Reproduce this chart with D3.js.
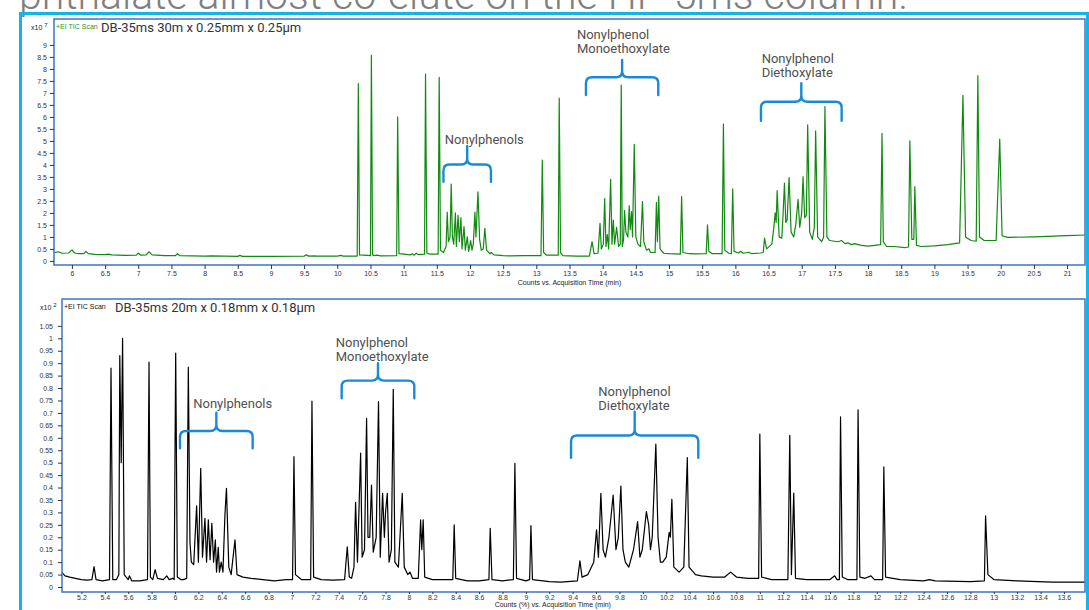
<!DOCTYPE html>
<html lang="en">
<head>
<meta charset="utf-8">
<title>DB-35ms chromatograms</title>
<script src="https://d3js.org/d3.v7.min.js"></script>
<style>
  body { margin: 0; background: #fff; }
  .tick text { font-family: "Liberation Sans", Arial, sans-serif; font-size: 7px; fill: #333; }
  .tick line { stroke: #333; }
  .domain { display: none; }
  .note { font-family: Roboto, sans-serif; font-size: 13px; fill: #505050; }
  .brace { fill: none; stroke: #1b8ad6; stroke-width: 2.4; stroke-linecap: round; stroke-linejoin: round; }
  .small { font-family: "Liberation Sans", Arial, sans-serif; font-size: 7px; }
</style>
</head>
<body>
<script>
// 30 m column run, signal in x10^7 counts
var topTime = [5.73,5.80,5.85,5.95,6.00,6.04,6.10,6.18,6.21,6.25,6.35,6.50,6.55,6.60,6.80,6.97,7.00,7.04,7.12,7.16,7.21,7.40,7.56,7.59,7.63,8.00,8.10,8.50,8.53,8.57,9.00,9.50,9.53,9.57,9.65,9.70,10.00,10.05,10.09,
  10.30,10.317,10.335,10.50,10.514,10.532,10.56,10.60,10.65,10.895,10.91,10.93,11.00,11.10,11.13,11.16,11.19,11.22,11.315,11.33,11.35,11.40,11.52,11.536,11.555,
  11.60,11.64,11.657,11.675,11.70,11.717,11.735,11.755,11.78,11.795,11.82,11.84,11.863,11.88,11.91,11.93,11.96,11.98,12.01,12.03,12.05,12.074,12.09,12.12,12.145,12.17,12.20,12.224,12.25,12.30,12.32,12.36,12.50,12.60,12.80,
  13.07,13.09,13.11,13.15,13.33,13.345,13.365,13.40,13.60,13.80,13.84,13.87,13.93,13.96,13.98,14.01,14.03,14.05,14.07,14.09,14.12,14.14,14.16,14.18,14.21,14.24,14.265,14.28,14.295,14.315,14.33,14.35,14.38,14.40,14.415,14.435,14.45,14.476,14.50,14.53,14.57,14.60,14.62,14.66,14.70,14.72,14.79,14.81,14.825,14.845,14.865,14.92,
  15.00,15.17,15.19,15.21,15.30,15.40,15.56,15.58,15.60,15.65,15.80,15.82,15.84,15.90,15.94,15.96,15.98,16.05,16.08,16.12,16.20,16.25,16.38,16.42,16.44,16.47,16.55,16.58,16.60,16.615,16.63,16.66,16.70,16.72,16.74,16.76,16.78,16.81,16.84,16.88,16.91,16.945,16.97,17.00,17.02,17.045,17.07,17.09,17.12,17.16,17.19,17.21,17.24,17.30,17.33,17.35,17.38,17.42,
  17.55,17.60,17.65,17.70,17.75,17.80,17.90,18.00,18.10,18.19,18.21,18.23,18.28,18.40,18.55,18.61,18.63,18.66,18.69,18.705,18.73,18.80,19.00,19.20,19.38,19.43,19.47,19.55,19.63,19.655,19.68,19.75,19.93,19.985,20.02,20.10,20.50,21.00,21.27];
var topSignal = [0.35,0.38,0.32,0.33,0.46,0.33,0.30,0.30,0.40,0.30,0.27,0.26,0.28,0.25,0.23,0.24,0.32,0.24,0.25,0.38,0.25,0.22,0.22,0.30,0.22,0.20,0.21,0.19,0.23,0.19,0.19,0.20,0.25,0.20,0.21,0.20,0.20,0.23,0.20,
  0.20,7.39,0.25,0.22,8.57,0.25,0.22,0.24,0.21,0.22,6.0,0.30,0.28,0.25,0.30,0.24,0.32,0.26,0.28,7.78,0.32,0.28,0.28,7.65,0.45,
  0.35,0.6,2.03,0.8,1.0,3.2,1.0,0.7,2.0,0.6,1.9,0.8,1.8,0.5,1.43,0.45,1.0,0.4,0.85,0.45,0.7,2.03,1.0,2.88,0.9,0.45,0.5,1.36,0.45,0.3,0.35,0.25,0.22,0.21,0.22,
  0.22,4.2,0.35,0.24,0.24,6.78,0.35,0.22,0.20,0.20,0.8,0.3,0.32,1.57,0.5,0.7,2.6,0.6,1.1,0.5,3.4,0.7,1.7,0.7,1.4,0.6,0.7,7.33,0.6,0.9,2.1,1.2,1.0,2.3,1.3,2.05,1.0,4.86,1.0,0.7,0.6,2.47,0.8,0.45,0.5,0.35,0.35,2.44,0.8,2.7,0.5,0.32,
  0.30,0.28,2.68,0.35,0.30,0.29,0.30,1.5,0.4,0.30,0.30,5.7,0.45,0.32,0.30,3.0,0.4,0.33,0.4,0.32,0.36,0.30,0.33,0.35,0.95,0.5,0.7,1.4,2.0,1.6,2.93,1.0,0.95,2.0,3.24,1.6,1.7,3.47,1.2,1.0,1.5,2.57,1.4,2.0,3.51,1.8,1.9,5.67,1.2,0.9,1.4,5.42,1.0,0.8,1.0,6.43,1.0,0.85,
  0.8,0.85,0.72,0.75,0.68,0.72,0.65,0.62,0.65,0.68,5.32,0.8,0.6,0.6,0.55,0.58,5.0,0.9,0.9,3.1,0.65,0.6,0.63,0.68,0.75,6.9,1.0,0.85,0.82,7.72,1.0,0.85,0.85,5.08,1.05,0.98,1.0,1.05,1.08];

// 20 m column run, signal in x10^2 %
var bottomTime = [5.03,5.06,5.10,5.15,5.20,5.25,5.29,5.308,5.325,5.38,5.44,5.453,5.468,5.50,5.52,5.528,5.54,5.552,5.566,5.60,5.61,5.63,5.70,5.765,5.778,5.79,5.81,5.83,5.85,5.90,5.93,5.95,5.98,5.993,6.006,6.02,6.05,6.07,6.10,6.114,6.128,6.14,6.16,6.185,6.20,6.22,6.235,6.256,6.27,6.285,6.30,6.315,6.33,6.345,6.355,6.37,6.38,6.395,6.41,6.427,6.44,6.46,6.48,6.513,6.53,6.58,6.65,6.75,6.85,6.95,
  7.005,7.017,7.03,7.08,7.16,7.171,7.185,7.25,7.35,7.45,7.473,7.49,7.51,7.53,7.544,7.56,7.587,7.60,7.62,7.638,7.65,7.665,7.68,7.695,7.72,7.74,7.755,7.775,7.79,7.80,7.815,7.83,7.85,7.866,7.88,7.91,7.943,7.96,7.99,8.01,8.03,8.08,8.10,8.11,8.122,8.135,8.20,8.30,8.375,8.387,8.40,8.50,8.60,8.684,8.695,8.71,8.80,8.893,8.906,8.92,9.00,9.032,9.043,9.056,9.20,9.30,
  9.44,9.462,9.48,9.53,9.58,9.604,9.62,9.641,9.66,9.68,9.71,9.746,9.77,9.79,9.812,9.83,9.85,9.88,9.92,9.955,9.975,9.995,10.03,10.05,10.065,10.08,10.111,10.13,10.15,10.17,10.20,10.225,10.235,10.248,10.265,10.31,10.35,10.38,10.395,10.45,10.50,
  10.60,10.70,10.75,10.80,10.90,10.99,11.00,11.015,11.10,11.24,11.256,11.27,11.29,11.305,11.40,11.50,11.60,11.64,11.66,11.68,11.69,11.705,11.75,11.83,11.84,11.855,11.90,11.95,11.98,12.05,12.06,12.075,12.20,12.40,12.45,12.50,12.80,12.92,12.93,12.95,13.00,13.20,13.50,13.78];
var bottomSignal = [0.06,0.045,0.04,0.035,0.03,0.028,0.03,0.082,0.03,0.025,0.03,0.88,0.03,0.03,0.05,0.93,0.5,1.0,0.05,0.03,0.045,0.025,0.025,0.03,0.904,0.04,0.03,0.07,0.035,0.03,0.045,0.03,0.035,0.03,0.94,0.04,0.03,0.03,0.035,0.884,0.18,0.1,0.09,0.326,0.1,0.477,0.12,0.276,0.1,0.27,0.11,0.256,0.1,0.19,0.06,0.16,0.06,0.1,0.06,0.29,0.397,0.08,0.05,0.19,0.05,0.04,0.035,0.03,0.025,0.03,
  0.03,0.524,0.05,0.03,0.03,0.748,0.04,0.03,0.028,0.03,0.162,0.04,0.035,0.08,0.34,0.1,0.538,0.12,0.15,0.678,0.2,0.2,0.41,0.14,0.2,0.745,0.12,0.377,0.2,0.3,0.377,0.1,0.15,0.795,0.1,0.08,0.377,0.08,0.05,0.06,0.035,0.035,0.27,0.15,0.27,0.04,0.03,0.03,0.03,0.25,0.035,0.025,0.025,0.03,0.236,0.03,0.025,0.03,0.497,0.035,0.025,0.03,0.247,0.03,0.022,0.02,
  0.025,0.105,0.04,0.05,0.1,0.23,0.12,0.377,0.15,0.12,0.2,0.37,0.15,0.2,0.406,0.15,0.1,0.08,0.15,0.263,0.12,0.15,0.303,0.25,0.15,0.2,0.575,0.2,0.1,0.1,0.12,0.22,0.2,0.353,0.08,0.06,0.08,0.52,0.08,0.05,0.045,
  0.04,0.04,0.06,0.04,0.035,0.035,0.615,0.04,0.03,0.03,0.61,0.05,0.378,0.035,0.03,0.03,0.03,0.045,0.03,0.03,0.684,0.04,0.03,0.03,0.712,0.04,0.035,0.045,0.03,0.03,0.483,0.04,0.03,0.025,0.03,0.025,0.022,0.025,0.286,0.05,0.03,0.025,0.02,0.02];

// axis ticks
var topXTicks = [6,6.5,7,7.5,8,8.5,9,9.5,10,10.5,11,11.5,12,12.5,13,13.5,14,14.5,15,15.5,16,16.5,17,17.5,18,18.5,19,19.5,20,20.5,21];
var topYTicks = [0,0.5,1,1.5,2,2.5,3,3.5,4,4.5,5,5.5,6,6.5,7,7.5,8,8.5,9];
var bottomXTicks = [5.2,5.4,5.6,5.8,6,6.2,6.4,6.6,6.8,7,7.2,7.4,7.6,7.8,8,8.2,8.4,8.6,8.8,9,9.2,9.4,9.6,9.8,10,10.2,10.4,10.6,10.8,11,11.2,11.4,11.6,11.8,12,12.2,12.4,12.6,12.8,13,13.2,13.4,13.6];
var bottomYTicks = [0,0.05,0.1,0.15,0.2,0.25,0.3,0.35,0.4,0.45,0.5,0.55,0.6,0.65,0.7,0.75,0.8,0.85,0.9,0.95,1,1.05];

// compound groups (label lines, time span of the bracket)
var groupLabels = [["Nonylphenols"], ["Nonylphenol", "Monoethoxylate"], ["Nonylphenol", "Diethoxylate"]];
var topGroupSpan = [[11.60, 12.316], [13.748, 14.838], [16.386, 17.602]];
var bottomGroupSpan = [[6.043, 6.664], [7.425, 8.046], [9.386, 10.474]];

var width = 1089, height = 610;

var svg = d3.select("body").append("svg")
  .attr("width", width)
  .attr("height", height);

// slide heading, cut off by the top edge
svg.append("text")
  .attr("x", 19).attr("y", 9)
  .attr("font-family", "Roboto, sans-serif")
  .attr("font-weight", 300)
  .attr("font-size", 41)
  .attr("fill", "#7f7f7f")
  .text("phthalate almost co-elute on the HP-5ms column.");

// cyan slide frame
svg.append("rect").attr("x", 19).attr("y", 12).attr("width", 3).attr("height", height - 12).attr("fill", "#14b4e4");
svg.append("rect").attr("x", 19).attr("y", 12).attr("width", width - 19).attr("height", 3).attr("fill", "#14b4e4");
svg.append("rect").attr("x", 1086).attr("y", 12).attr("width", 3).attr("height", height - 12).attr("fill", "#14b4e4");

function bracePath(x0, x1, xc, yEnd, yBar, yTip) {
  var r = 6;
  var p = d3.path();
  p.moveTo(x0, yEnd);
  p.lineTo(x0, yBar + r);
  p.quadraticCurveTo(x0, yBar, x0 + r, yBar);
  p.lineTo(xc - r, yBar);
  p.quadraticCurveTo(xc, yBar, xc, yBar - r);
  p.lineTo(xc, yTip);
  p.moveTo(xc, yBar - r);
  p.quadraticCurveTo(xc, yBar, xc + r, yBar);
  p.lineTo(x1 - r, yBar);
  p.quadraticCurveTo(x1, yBar, x1, yBar + r);
  p.lineTo(x1, yEnd);
  return p.toString();
}

function drawPanel(cfg) {
  var x = d3.scaleLinear().domain(cfg.xDomain).range([cfg.left, cfg.right]);
  var y = d3.scaleLinear().domain(cfg.yDomain).range([cfg.bottom, cfg.top]);
  var g = svg.append("g");

  g.append("clipPath").attr("id", cfg.id)
    .append("rect")
    .attr("x", cfg.left).attr("y", cfg.top)
    .attr("width", cfg.right - cfg.left).attr("height", cfg.bottom - cfg.top);

  var pts = d3.zip(cfg.time, cfg.signal);
  var line = d3.line().x(function(d) { return x(d[0]); }).y(function(d) { return y(d[1]); });

  g.append("path")
    .datum(pts)
    .attr("clip-path", "url(#" + cfg.id + ")")
    .attr("d", line)
    .attr("fill", "none")
    .attr("stroke", cfg.color)
    .attr("stroke-width", 1.2)
    .attr("stroke-linejoin", "round");

  // frame
  g.append("rect")
    .attr("x", cfg.left).attr("y", cfg.top)
    .attr("width", cfg.right - cfg.left).attr("height", cfg.bottom - cfg.top)
    .attr("fill", "none")
    .attr("stroke", "#4a7cc9")
    .attr("stroke-width", 1.6);

  g.append("g")
    .attr("transform", "translate(" + cfg.left + ",0)")
    .call(d3.axisLeft(y).tickValues(cfg.yTicks).tickSize(4).tickPadding(cfg.yPad).tickFormat(String));

  g.append("g")
    .attr("transform", "translate(0," + cfg.bottom + ")")
    .call(d3.axisBottom(x).tickValues(cfg.xTicks).tickSize(cfg.xTickSize).tickPadding(cfg.xPad).tickFormat(String));

  g.append("text")
    .attr("class", "small")
    .attr("x", x(cfg.xTitleAt)).attr("y", cfg.xTitleY)
    .attr("text-anchor", "middle")
    .attr("font-size", 6.5)
    .attr("fill", "#222")
    .text(cfg.xTitle);

  // multiplier
  var m = g.append("text").attr("class", "small").attr("fill", "#222")
    .attr("x", cfg.multX).attr("y", cfg.top + 11);
  m.append("tspan").text("x10 ");
  m.append("tspan").attr("dy", -3).attr("font-size", 6).text(cfg.exponent);

  g.append("text").attr("class", "small")
    .attr("x", cfg.left + 2).attr("y", cfg.top + 9.5)
    .attr("font-size", 7.5)
    .attr("fill", cfg.scanColor)
    .text("+EI TIC Scan");

  var t = g.append("text")
    .attr("x", cfg.titleX).attr("y", cfg.top + 13)
    .attr("font-family", "Roboto, sans-serif")
    .attr("font-size", 13)
    .attr("fill", "#333")
    .text(cfg.title);
  var bb = t.node().getBBox();
  g.insert("rect", function() { return t.node(); })
    .attr("x", bb.x - 1).attr("y", cfg.top + 1)
    .attr("width", bb.width + 2).attr("height", 16)
    .attr("fill", "#fff");

  // compound group brackets and labels
  cfg.groups.forEach(function(gr, i) {
    var x0 = x(cfg.span[i][0]), x1 = x(cfg.span[i][1]);
    g.append("path")
      .attr("class", "brace")
      .attr("d", bracePath(x0, x1, (x0 + x1) / 2, y(gr.end), y(gr.bar), y(gr.tip)));
    var lbl = g.append("text").attr("class", "note")
      .attr("x", x(gr.textAt)).attr("y", y(gr.textY));
    groupLabels[i].forEach(function(s, k) {
      lbl.append("tspan").attr("x", x(gr.textAt)).attr("dy", k ? 14 : 0).text(s);
    });
  });
}

drawPanel({
  id: "clipTop", left: 54, right: 1085, top: 19, bottom: 265,
  xDomain: [5.73, 21.27], yDomain: [-0.17, 10.08],
  time: topTime, signal: topSignal, color: "#118a11",
  xTicks: topXTicks, yTicks: topYTicks, yPad: 3, xTickSize: 4, xPad: 2,
  xTitle: "Counts vs. Acquisition Time (min)", xTitleAt: 13.5, xTitleY: 285,
  multX: 31, exponent: "7", scanColor: "#1a9a1a",
  title: "DB-35ms 30m x 0.25mm x 0.25μm", titleX: 101,
  span: topGroupSpan,
  groups: [
    { end: 3.3, bar: 4.02, tip: 4.79, textAt: 11.62, textY: 4.89 },
    { end: 6.91, bar: 7.65, tip: 8.37, textAt: 13.612, textY: 9.25 },
    { end: 5.84, bar: 6.63, tip: 7.4, textAt: 16.396, textY: 8.26 }
  ]
});

drawPanel({
  id: "clipBottom", left: 62, right: 1085, top: 299, bottom: 592,
  xDomain: [5.034, 13.78], yDomain: [-0.02, 1.158],
  time: bottomTime, signal: bottomSignal, color: "#000",
  xTicks: bottomXTicks, yTicks: bottomYTicks, yPad: 5, xTickSize: 2, xPad: 1,
  xTitle: "Counts (%) vs. Acquisition Time (min)", xTitleAt: 9.23, xTitleY: 607,
  multX: 40, exponent: "2", scanColor: "#111",
  title: "DB-35ms 20m x 0.18mm x 0.18μm", titleX: 115,
  span: bottomGroupSpan,
  groups: [
    { end: 0.558, bar: 0.6275, tip: 0.701, textAt: 6.156, textY: 0.719 },
    { end: 0.759, bar: 0.83, tip: 0.9, textAt: 7.374, textY: 0.964 },
    { end: 0.52, bar: 0.609, tip: 0.705, textAt: 9.619, textY: 0.7695 }
  ]
});
</script>
</body>
</html>
